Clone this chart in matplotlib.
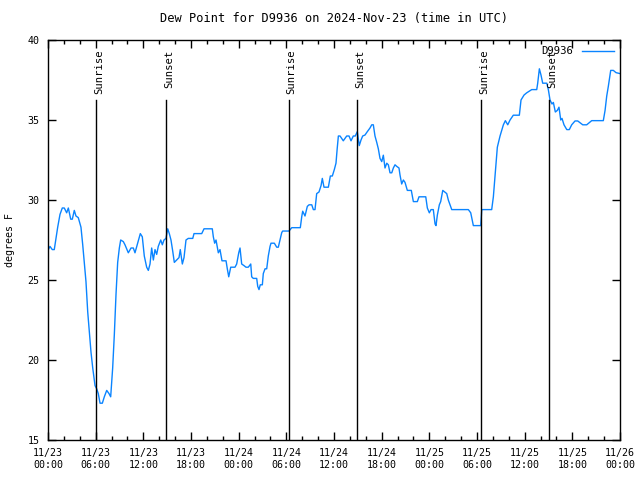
import numpy as np
import pandas as pd
import matplotlib
matplotlib.use('Agg')
import matplotlib.pyplot as plt
import matplotlib.dates as mdates
import matplotlib.transforms as mtransforms

# hours since 2024-11-23 00:00 UTC and dew point (F)
hours = [0.04, 0.25, 0.54, 0.79, 1.01, 1.22, 1.51, 1.80, 2.05, 2.35, 2.56, 2.86, 3.06,
         3.31, 3.52, 3.81, 4.15, 4.37, 4.57, 4.78, 5.00, 5.20, 5.41, 5.63, 5.92, 6.13,
         6.33, 6.55, 6.84, 7.09, 7.39, 7.68, 7.89, 8.14, 8.35, 8.56, 8.77, 8.98, 9.15,
         9.48, 9.69, 10.11, 10.45, 10.74, 10.95, 11.29, 11.62, 11.87, 12.12, 12.42,
         12.63, 12.84, 13.05, 13.26, 13.47, 13.68, 13.88, 14.19, 14.39, 14.60, 14.85,
         15.07, 15.27, 15.48, 15.70, 15.90, 16.20, 16.49, 16.65, 16.91, 17.12, 17.37,
         17.66, 18.22, 18.38, 19.35, 19.64, 20.68, 20.81, 20.98, 21.15, 21.44, 21.65,
         21.90, 22.41, 22.57, 22.75, 23.00, 23.54, 23.75, 24.01, 24.17, 24.38, 24.67,
         24.92, 25.21, 25.52, 25.64, 25.84, 26.27, 26.40, 26.56, 26.72, 26.98, 27.10,
         27.32, 27.53, 27.73, 27.95, 28.07, 28.49, 28.79, 28.99, 29.20, 29.42, 29.54,
         30.34, 30.68, 31.76, 31.94, 32.06, 32.35, 32.64, 32.86, 33.20, 33.40, 33.61,
         33.82, 34.11, 34.37, 34.53, 34.74, 35.29, 35.54, 35.79, 36.04, 36.25, 36.40,
         36.55, 36.76, 37.17, 37.60, 37.89, 38.14, 38.43, 38.68, 38.93, 39.18, 39.40,
         39.61, 39.90, 40.19, 40.53, 40.75, 40.95, 41.16, 41.38, 41.58, 41.79, 42.01,
         42.21, 42.42, 42.64, 42.84, 43.05, 43.27, 43.47, 43.68, 43.90, 44.18, 44.31,
         44.52, 44.73, 44.94, 45.23, 45.73, 45.99, 46.49, 46.70, 47.55, 47.75, 48.00,
         48.21, 48.50, 48.72, 48.84, 49.01, 49.26, 49.43, 49.69, 49.94, 50.19, 50.39,
         50.82, 52.91, 53.21, 53.54, 54.47, 54.60, 55.85, 56.06, 56.27, 56.56, 56.90,
         57.32, 57.57, 57.87, 58.16, 58.57, 59.33, 59.54, 59.92, 60.26, 60.89, 61.52,
         61.64, 61.85, 62.06, 62.27, 62.78, 62.98, 63.19, 63.44, 63.61, 63.86, 64.11,
         64.32, 64.54, 64.70, 64.95, 65.30, 65.62, 65.92, 66.34, 66.68, 67.31, 67.81,
         68.44, 69.90, 70.12, 70.33, 70.53, 70.83, 71.16, 71.50, 72.00]
dewpoint = [26.9, 27.1, 26.9, 26.9, 27.6, 28.3, 29.1, 29.5, 29.5, 29.2, 29.5, 28.8, 28.8,
            29.35, 29.0, 28.9, 28.3, 27.2, 26.1, 24.9, 23.0, 21.8, 20.5, 19.5, 18.4, 18.2,
            17.9, 17.3, 17.3, 17.7, 18.1, 17.9, 17.7, 19.5, 21.6, 24.1, 26.1, 27.0, 27.5,
            27.4, 27.2, 26.7, 27.0, 27.0, 26.7, 27.3, 27.9, 27.7, 26.5, 25.8,
            25.6, 26.0, 27.0, 26.25, 26.9, 26.6, 27.1, 27.5, 27.2, 27.5, 27.6,
            28.2, 27.9, 27.5, 26.8, 26.1, 26.25, 26.4, 26.9, 26.0, 26.4, 27.5,
            27.6, 27.6, 27.9, 27.9, 28.2, 28.2, 27.7, 27.3, 27.5, 26.7, 26.9,
            26.2, 26.2, 25.7, 25.2, 25.8, 25.8, 26.0, 26.7, 27.0, 26.0, 25.9,
            25.8, 25.8, 26.0, 25.2, 25.1, 25.1, 24.6, 24.4, 24.7, 24.7, 25.4,
            25.7, 25.7, 26.5, 27.1, 27.3, 27.3, 27.05, 27.05, 27.5, 27.96, 28.06,
            28.06, 28.27, 28.27, 28.96, 29.3, 29.0, 29.6, 29.7, 29.7, 29.4, 29.4,
            30.4, 30.5, 30.9, 31.35, 30.8, 30.8, 31.5, 31.5, 31.9, 32.3, 33.2,
            34.0, 34.0, 33.7, 34.0, 34.0, 33.7, 34.0, 34.0, 34.27, 33.4, 33.75,
            34.0, 34.06, 34.27, 34.5, 34.7, 34.7, 34.0, 33.6, 33.2, 32.6, 32.4,
            32.8, 32.0, 32.3, 32.2, 31.7, 31.7, 32.0, 32.2, 32.1, 32.0, 31.56,
            31.0, 31.25, 31.1, 30.6, 30.6, 29.9, 29.9, 30.2, 30.2, 29.5, 29.2,
            29.4, 29.4, 28.5, 28.4, 29.06, 29.7, 29.9, 30.6, 30.5, 30.4, 30.0,
            29.4, 29.4, 29.2, 28.4, 28.4, 29.4, 29.4, 30.2, 31.5, 33.3, 34.0,
            34.7, 34.96, 34.7, 35.0, 35.3, 35.3, 36.25, 36.56, 36.7, 36.9, 36.9,
            37.3, 38.2, 37.8, 37.3, 37.3, 36.9, 36.25, 36.0, 36.1, 35.5, 35.6,
            35.8, 35.0, 35.1, 34.7, 34.4, 34.4, 34.7, 34.94, 34.94, 34.7, 34.7,
            34.96, 34.96, 35.6, 36.5, 37.1, 38.1, 38.1, 37.96, 37.9]

# sunrise / sunset times, hours since 2024-11-23 00:00 UTC
sun_hours = [6.05, 14.85, 30.3, 38.95, 54.5, 63.05]
sun_labels = ['Sunrise', 'Sunset', 'Sunrise', 'Sunset', 'Sunrise', 'Sunset']

start = pd.Timestamp('2024-11-23 00:00')
times = start + pd.to_timedelta(hours, unit='h')
sun_times = start + pd.to_timedelta(sun_hours, unit='h')

plt.rcParams['font.family'] = 'DejaVu Sans Mono'
plt.rcParams['font.size'] = 7.2

fig = plt.figure(figsize=(6.4, 4.8), dpi=100)
ax = fig.add_axes([48 / 640, 40 / 480, 572 / 640, 400 / 480])

ax.plot(times, dewpoint, color='#0a84ff', linewidth=1.0, label='D9936')

# shift the rotated labels a few pixels right so they sit over the line
shift = mtransforms.offset_copy(ax.transData, fig=fig, x=3, y=0, units='dots')
for t, lab in zip(sun_times, sun_labels):
    ax.plot([t, t], [15, 36.25], color='black', linewidth=1.0)
    ax.text(t, 39.4, lab, rotation=90, ha='center', va='top', fontsize=7.6,
            transform=shift)

ax.set_xlim(start, start + pd.Timedelta(hours=72))
ax.set_ylim(15, 40)
ax.set_yticks([15, 20, 25, 30, 35, 40])
ax.xaxis.set_major_locator(mdates.HourLocator(byhour=[0, 6, 12, 18]))
ax.xaxis.set_minor_locator(mdates.HourLocator(interval=2))
ax.xaxis.set_major_formatter(mdates.DateFormatter('%m/%d\n%H:%M'))
ax.tick_params(which='both', direction='in', top=True, right=True, width=1.0)
ax.tick_params(which='major', length=6, pad=6)
ax.tick_params(which='minor', length=3)
for s in ax.spines.values():
    s.set_linewidth(1.0)

ax.set_ylabel('degrees F', labelpad=9)
ax.set_title('Dew Point for D9936 on 2024-Nov-23 (time in UTC)', pad=13)

leg = ax.legend(loc='upper right', frameon=False, handlelength=3.0,
                markerfirst=False, borderaxespad=0.2, fontsize=7.6)

fig.savefig('out.png', dpi=100)
